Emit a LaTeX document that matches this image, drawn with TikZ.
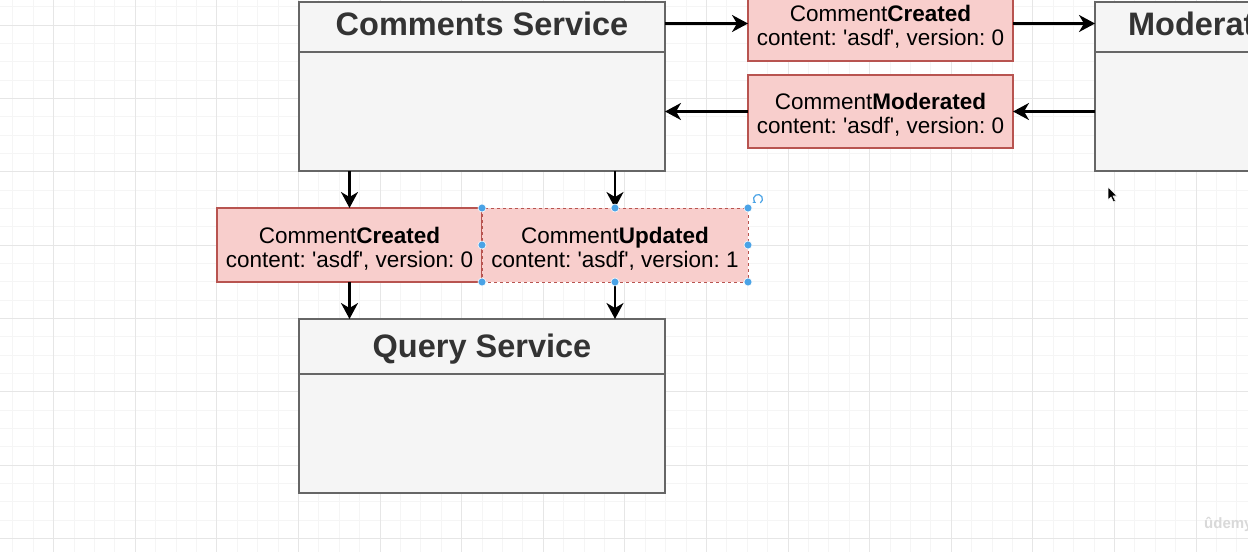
\documentclass[tikz,border=0pt]{standalone}
\usepackage{fontspec}
\setmainfont{Liberation Sans}
\usetikzlibrary{arrows.meta}
\definecolor{svcfill}{HTML}{F5F5F5}
\definecolor{svcdraw}{HTML}{666666}
\definecolor{evfill}{HTML}{F8CECC}
\definecolor{evdraw}{HTML}{B85450}
\definecolor{selblue}{HTML}{4AA3E6}
\definecolor{gridmin}{HTML}{F5F5F5}
\definecolor{gridmaj}{HTML}{E6E6E6}
\definecolor{titlecol}{HTML}{333333}
\newcommand{\asdf}{content: \textquotesingle asdf\textquotesingle, version:}
\frenchspacing

\begin{document}
\begin{tikzpicture}[x=1pt, y=-1pt,
    svc/.style={draw=svcdraw, fill=svcfill, line width=2pt, minimum width=366pt, inner sep=0pt, outer sep=0pt},
    svcline/.style={draw=svcdraw, line width=2pt},
    svctitle/.style={font=\bfseries\fontsize{32.5}{36}\selectfont, text=titlecol, inner sep=0pt},
    evbox/.style={draw=evdraw, fill=evfill, line width=1.6pt, minimum width=265pt, inner sep=0pt, outer sep=0pt},
    evtext/.style={font=\fontsize{22.5}{24}\selectfont, align=center, inner sep=0pt, yshift=-3.5pt},
    flow/.style={draw=black, line width=2.2pt, -{Stealth[length=16pt, width=17pt, inset=5pt]}},
    handle/.style={circle, fill=selblue, draw=white, line width=0.6pt, minimum size=8pt, inner sep=0pt},
  ]
    \useasboundingbox (0,0) rectangle (1248,552);
    \clip (0,0) rectangle (1248,552);
    \fill[white] (0,0) rectangle (1248,552);
    % Grade
    \foreach \i in {0,...,60}
        \draw[gridmin, line width=0.8pt] ({12.7+20.4*\i},0) -- ++(0,552);
    \foreach \j in {0,...,30}
        \draw[gridmin, line width=0.8pt] (0,{6.7+18.33*\j}) -- ++(1248,0);
    \foreach \i in {2,6,...,58}
        \draw[gridmaj, line width=0.8pt] ({12.7+20.4*\i},0) -- ++(0,552);
    \foreach \j in {1,5,...,29}
        \draw[gridmaj, line width=0.8pt] (0,{6.7+18.33*\j}) -- ++(1248,0);

    % Serviços
    \node[svc, minimum height=169pt] (comments) at (482,86.5) {};
    \draw[svcline] (comments.west |- 0,52) -- (comments.east |- 0,52);
    \node[svctitle, anchor=base] (commentsT) at (482,35) {Comments Service};

    \node[svc, minimum height=169pt] (moderation) at (1278,86.5) {};
    \draw[svcline] (moderation.west |- 0,52) -- (moderation.east |- 0,52);
    \node[svctitle, anchor=base] (moderationT) at (1278,35) {Moderation Service};

    \node[svc, minimum height=174pt] (query) at (482,406) {};
    \draw[svcline] (query.west |- 0,374) -- (query.east |- 0,374);
    \node[svctitle, anchor=base] (queryT) at (482,357) {Query Service};

    % Eventos
    \node[evbox, minimum height=75pt] (createdA) at (880.5,23.5) {};
    \node[evtext] at (createdA.center) {Comment\textbf{Created}\\\asdf{} 0};

    \node[evbox, minimum height=73pt] (moderated) at (880.5,111.5) {};
    \node[evtext] at (moderated.center) {Comment\textbf{Moderated}\\\asdf{} 0};

    \node[evbox, minimum height=74pt] (createdB) at (349.5,245) {};
    \node[evtext] at (createdB.center) {Comment\textbf{Created}\\\asdf{} 0};

    \node[evbox, minimum height=74pt, minimum width=266pt, line width=0.9pt, dashed] (updated) at (615,245) {};
    \node[evtext] at (updated.center) {Comment\textbf{Updated}\\\asdf{} 1};

    % Setas
    \draw[flow] (comments.east |- createdA) -- (createdA.west);
    \draw[flow] (createdA.east) -- (moderation.west |- createdA);
    \draw[flow] (moderation.west |- moderated) -- (moderated.east);
    \draw[flow] (moderated.west) -- (comments.east |- moderated);
    \draw[flow] (comments.south -| createdB) -- (createdB.north);
    \draw[flow] (comments.south -| updated) -- (updated.north);
    \draw[flow] (createdB.south) -- (query.north -| createdB);
    \draw[flow] (updated.south) -- (query.north -| updated);

    % Seleção
    \foreach \a in {north west, north, north east, west, east, south west, south, south east}
        \node[handle] at (updated.\a) {};
    \draw[selblue, line width=1.2pt, -{Stealth[length=3pt, width=3.5pt]}] (758,199) ++(60:4.5) arc (60:-240:4.5);

    % Cursor e marca
    \filldraw[fill=black, draw=white, line width=0.6pt] (1108,187) -- (1108,200) -- (1111,197) -- (1113.5,202) -- (1115.5,201) -- (1113,196) -- (1117,196) -- cycle;
    \node[anchor=base west, inner sep=0pt, text=gray!30, font=\bfseries\fontsize{15}{16}\selectfont] (udemy) at (1204,528) {ûdemy};
\end{tikzpicture}
\end{document}
